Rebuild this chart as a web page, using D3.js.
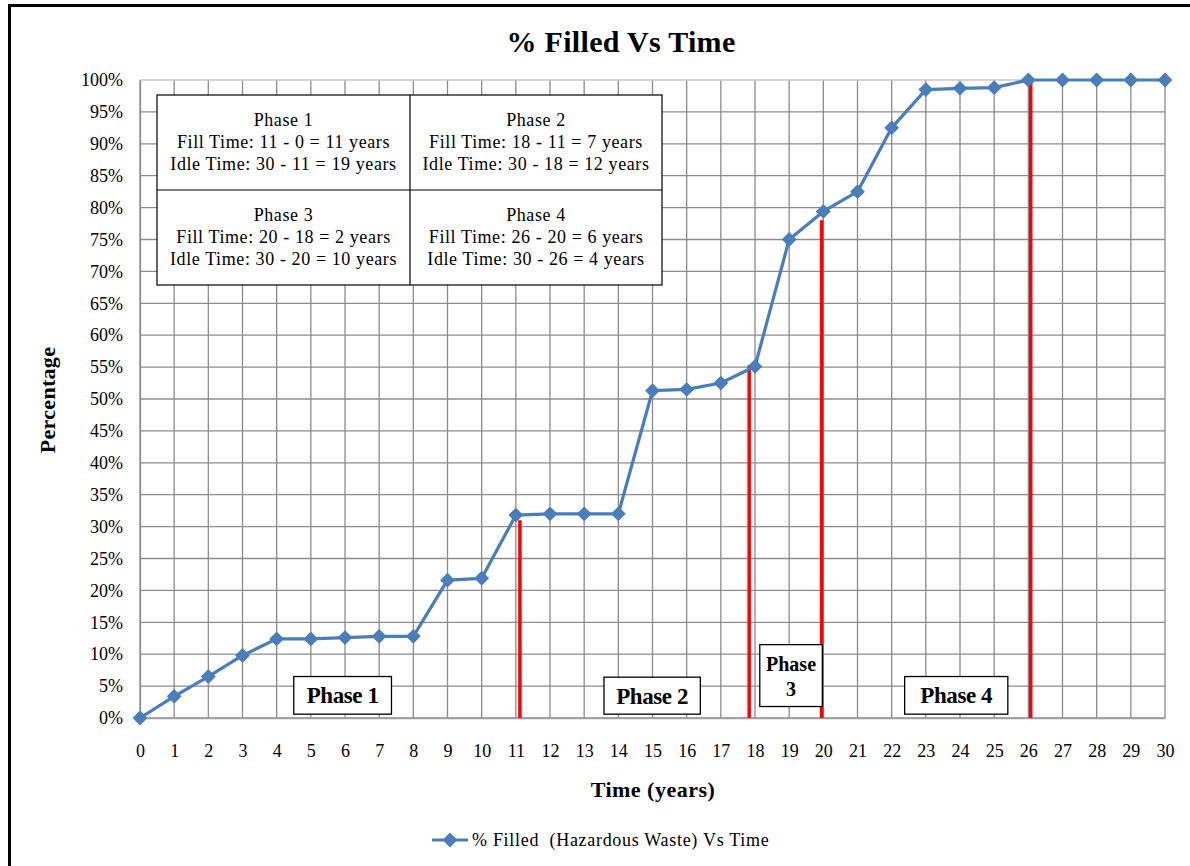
<!DOCTYPE html>
<html>
<head>
<meta charset="utf-8">
<script src="https://cdn.jsdelivr.net/npm/d3@7"></script>
<style>
  html, body { margin: 0; padding: 0; background: #fff; }
  svg text { font-family: "Liberation Serif", "Times New Roman", serif; fill: #000; }
</style>
</head>
<body>
<svg id="chart" width="1190" height="866"></svg>
<script>
// ---- Data ----
const years = [0,1,2,3,4,5,6,7,8,9,10,11,12,13,14,15,16,17,18,19,20,21,22,23,24,25,26,27,28,29,30];
const percentFilled = [0,3.4,6.5,9.8,12.4,12.4,12.6,12.8,12.8,21.6,21.9,31.8,32.0,32.0,32.0,51.3,51.5,52.5,55.1,75.0,79.4,82.5,92.5,98.5,98.7,98.8,100,100,100,100,100];
const xTicks = d3.range(0, 31, 1);
const yTicks = d3.range(0, 101, 5);
const seriesName = "% Filled  (Hazardous Waste) Vs Time";
const chartTitle = "% Filled Vs Time";
const xTitle = "Time (years)";
const yTitle = "Percentage";

// Red phase-boundary markers: x position (years) and top (percent)
const markerX = [11.12, 17.83, 19.95, 26.07];
const markerTop = [31.0, 55.3, 78.0, 100];

// Phase label boxes: [x0, x1] in years, [yLow, yHigh] in percent, text lines
const phaseLabels = [["Phase 1"], ["Phase 2"], ["Phase", "3"], ["Phase 4"]];
const phaseX0 = [4.5, 13.58, 18.14, 22.38];
const phaseX1 = [7.36, 16.4, 19.97, 25.4];
const phaseYLow = [0.6, 0.6, 1.8, 0.6];
const phaseYHigh = [6.5, 6.4, 11.5, 6.5];

// Info table
const tableCells = [
  ["Phase 1", "Fill Time: 11 - 0 = 11 years", "Idle Time: 30 - 11 = 19 years"],
  ["Phase 2", "Fill Time: 18 - 11 = 7 years", "Idle Time: 30 - 18 = 12 years"],
  ["Phase 3", "Fill Time: 20 - 18 = 2 years", "Idle Time: 30 - 20 = 10 years"],
  ["Phase 4", "Fill Time: 26 - 20 = 6 years", "Idle Time: 30 - 26 = 4 years"]
];

// ---- Layout ----
const svg = d3.select("#chart");
const plot = { left: 140, right: 1165, top: 80, bottom: 718 };
const x = d3.scaleLinear().domain([0, 30]).range([plot.left, plot.right]);
const y = d3.scaleLinear().domain([0, 100]).range([plot.bottom, plot.top]);

const blue = "#4a7ebb";
const red = "#ff0000";
const grid = "#8c8c8c";

// Outer frame
svg.append("rect").attr("x", 9.5).attr("y", 5.5).attr("width", 1250).attr("height", 900)
  .attr("fill", "none").attr("stroke", "#000").attr("stroke-width", 3);

// Gridlines
svg.append("g").selectAll("line").data(xTicks).join("line")
  .attr("x1", d => x(d)).attr("x2", d => x(d))
  .attr("y1", plot.top).attr("y2", plot.bottom)
  .attr("stroke", grid).attr("stroke-width", 1.3);
svg.append("g").selectAll("line").data(yTicks).join("line")
  .attr("x1", plot.left).attr("x2", plot.right)
  .attr("y1", d => y(d)).attr("y2", d => y(d))
  .attr("stroke", d => d === 100 ? "#c8c8c8" : grid).attr("stroke-width", 1.3);

// Axes (labels only, via d3 axes)
const xAxis = svg.append("g").attr("transform", `translate(0,${plot.bottom})`)
  .call(d3.axisBottom(x).tickValues(xTicks).tickSize(0).tickPadding(26).tickFormat(d3.format("d")));
xAxis.select(".domain").attr("stroke", "#a0a0a0").attr("stroke-width", 1.5);
xAxis.selectAll("text").style("font-size", "18px").style("font-family", "Liberation Serif, serif");

const yAxis = svg.append("g").attr("transform", `translate(${plot.left},0)`)
  .call(d3.axisLeft(y).tickValues(yTicks).tickSize(0).tickPadding(17).tickFormat(d => d + "%"));
yAxis.select(".domain").attr("stroke", grid).attr("stroke-width", 1.3);
yAxis.selectAll("text").style("font-size", "18px").style("font-family", "Liberation Serif, serif");

// Title & axis titles
svg.append("text").attr("x", 621).attr("y", 52).attr("text-anchor", "middle")
  .style("font-size", "30px").style("font-weight", "bold").style("letter-spacing", "0.3px").text(chartTitle);
svg.append("text").attr("x", 653).attr("y", 797).attr("text-anchor", "middle")
  .style("font-size", "22px").style("font-weight", "bold").style("letter-spacing", "0.5px").text(xTitle);
svg.append("text").attr("transform", "translate(55,400) rotate(-90)").attr("text-anchor", "middle")
  .style("font-size", "22px").style("font-weight", "bold").style("letter-spacing", "0.3px").text(yTitle);

// Info table
const tb = { left: 157, right: 662, top: 95, bottom: 285, midX: 410, midY: 190 };
const tg = svg.append("g");
tg.append("rect").attr("x", tb.left).attr("y", tb.top).attr("width", tb.right - tb.left)
  .attr("height", tb.bottom - tb.top).attr("fill", "#fff").attr("stroke", "#000").attr("stroke-width", 1.2);
tg.append("line").attr("x1", tb.midX).attr("x2", tb.midX).attr("y1", tb.top).attr("y2", tb.bottom)
  .attr("stroke", "#000").attr("stroke-width", 1.2);
tg.append("line").attr("x1", tb.left).attr("x2", tb.right).attr("y1", tb.midY).attr("y2", tb.midY)
  .attr("stroke", "#000").attr("stroke-width", 1.2);
tableCells.forEach((lines, i) => {
  const cx = (i % 2 === 0) ? (tb.left + tb.midX) / 2 : (tb.midX + tb.right) / 2;
  const y0 = (i < 2) ? 126 : 221;
  lines.forEach((t, j) => {
    tg.append("text").attr("x", cx).attr("y", y0 + j * 22).attr("text-anchor", "middle")
      .style("font-size", "18px").style("letter-spacing", "0.6px").text(t);
  });
});

// Red markers
svg.append("g").selectAll("line").data(markerX).join("line")
  .attr("x1", d => x(d)).attr("x2", d => x(d))
  .attr("y1", (d, i) => y(markerTop[i])).attr("y2", plot.bottom)
  .attr("stroke", red).attr("stroke-width", 3.5);

// Series line
const lineGen = d3.line().x((d, i) => x(years[i])).y(d => y(d));
svg.append("path").datum(percentFilled).attr("d", lineGen)
  .attr("fill", "none").attr("stroke", blue).attr("stroke-width", 3.2).attr("stroke-linejoin", "round");
const diamond = d3.symbol().type(d3.symbolDiamond2).size(140);
svg.append("g").selectAll("path").data(percentFilled).join("path")
  .attr("transform", (d, i) => `translate(${x(years[i])},${y(d)})`)
  .attr("d", diamond).attr("fill", blue);

// Phase label boxes
phaseLabels.forEach((lines, i) => {
  const x0 = x(phaseX0[i]), x1 = x(phaseX1[i]);
  const yTop = y(phaseYHigh[i]), yBot = y(phaseYLow[i]);
  svg.append("rect").attr("x", x0).attr("y", yTop).attr("width", x1 - x0).attr("height", yBot - yTop)
    .attr("fill", "#fff").attr("stroke", "#000").attr("stroke-width", 1.3);
  const cx = (x0 + x1) / 2;
  if (lines.length === 1) {
    svg.append("text").attr("x", cx).attr("y", (yTop + yBot) / 2 + 8).attr("text-anchor", "middle")
      .style("font-size", "23px").style("font-weight", "bold").style("letter-spacing", "-0.4px").text(lines[0]);
  } else {
    lines.forEach((t, j) => {
      svg.append("text").attr("x", cx).attr("y", yTop + 26 + j * 25).attr("text-anchor", "middle")
        .style("font-size", "20px").style("font-weight", "bold").text(t);
    });
  }
});

// Legend
const lg = svg.append("g");
lg.append("line").attr("x1", 432).attr("x2", 468).attr("y1", 840).attr("y2", 840)
  .attr("stroke", blue).attr("stroke-width", 3.2);
lg.append("path").attr("transform", "translate(450,840)").attr("d", diamond).attr("fill", blue);
lg.append("text").attr("x", 472).attr("y", 846).style("font-size", "18px").style("letter-spacing", "0.7px")
  .style("white-space", "pre").attr("xml:space", "preserve").text(seriesName);
</script>
</body>
</html>
